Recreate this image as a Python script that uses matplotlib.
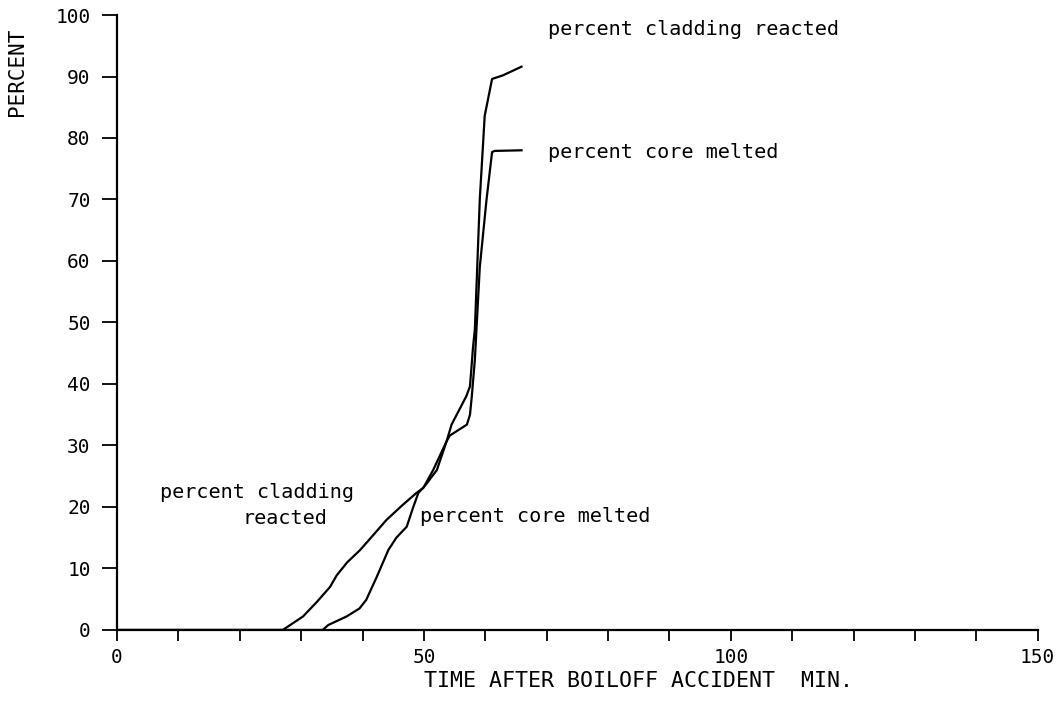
import matplotlib
matplotlib.use("Agg")
import matplotlib.pyplot as plt
from matplotlib.ticker import MultipleLocator

# time after boiloff accident (min) and percent values
clad_time = [0, 27.0, 28.2, 30.3, 32.5, 34.7, 35.8, 37.5, 39.6, 41.8, 43.9, 46.5,
             48.8, 49.9, 51.5, 53.7, 54.5, 56.9, 57.5, 58.0, 58.3, 59.1, 59.9,
             61.1, 62.9, 65.9]
clad_pct = [0, 0, 0.8, 2.2, 4.5, 7.0, 8.9, 11.0, 13.0, 15.5, 17.9, 20.3,
            22.3, 23.1, 26.0, 30.7, 33.4, 38.0, 39.6, 46.0, 48.9, 70.0, 83.6,
            89.6, 90.2, 91.6]

core_time = [0, 33.5, 34.4, 37.4, 39.5, 40.6, 42.3, 44.2, 45.5, 47.2, 48.3, 49.1,
             50.2, 52.1, 53.7, 54.2, 57.0, 57.5, 57.8, 58.3, 59.1, 60.2, 61.1,
             61.5, 65.9]
core_pct = [0, 0, 0.8, 2.2, 3.5, 4.9, 8.6, 13.0, 15.0, 16.8, 20.1, 22.3,
            23.5, 26.0, 30.7, 31.6, 33.4, 35.0, 38.0, 44.0, 59.0, 70.0, 77.7,
            77.9, 78.0]

fig = plt.figure(figsize=(10.6, 7.01), dpi=100)
ax = fig.add_axes([0.1104, 0.1013, 0.8686, 0.8773])

ax.plot(clad_time, clad_pct, color="black", lw=1.6)
ax.plot(core_time, core_pct, color="black", lw=1.6)

ax.set_xlim(0, 150)
ax.set_ylim(0, 100)
ax.spines["top"].set_visible(False)
ax.spines["right"].set_visible(False)
ax.spines["left"].set_linewidth(1.6)
ax.spines["bottom"].set_linewidth(1.6)

mono = "DejaVu Sans Mono"
ax.xaxis.set_major_locator(MultipleLocator(50))
ax.xaxis.set_minor_locator(MultipleLocator(10))
ax.yaxis.set_major_locator(MultipleLocator(10))
ax.tick_params(axis="x", which="both", direction="out", length=8, width=1.3, pad=5,
               labelsize=14)
ax.tick_params(axis="y", which="major", direction="out", length=11, width=1.3, pad=8,
               labelsize=14)
for lab in ax.get_xticklabels() + ax.get_yticklabels():
    lab.set_family(mono)

ax.set_xlabel("TIME AFTER BOILOFF ACCIDENT  MIN.", family=mono, fontsize=15.5,
              labelpad=3, x=0.566)
ax.set_ylabel("PERCENT", family=mono, fontsize=15, labelpad=14)
ax.yaxis.set_label_coords(-0.098, 0.907)

txt = dict(family=mono, fontsize=14.5, va="center")
ax.text(70.2, 97.6, "percent cladding reacted", **txt)
ax.text(70.2, 77.6, "percent core melted", **txt)
ax.text(7.0, 22.3, "percent cladding", **txt)
ax.text(20.5, 18.2, "reacted", **txt)
ax.text(49.3, 18.4, "percent core melted", **txt)

fig.savefig("out.png", dpi=100)
